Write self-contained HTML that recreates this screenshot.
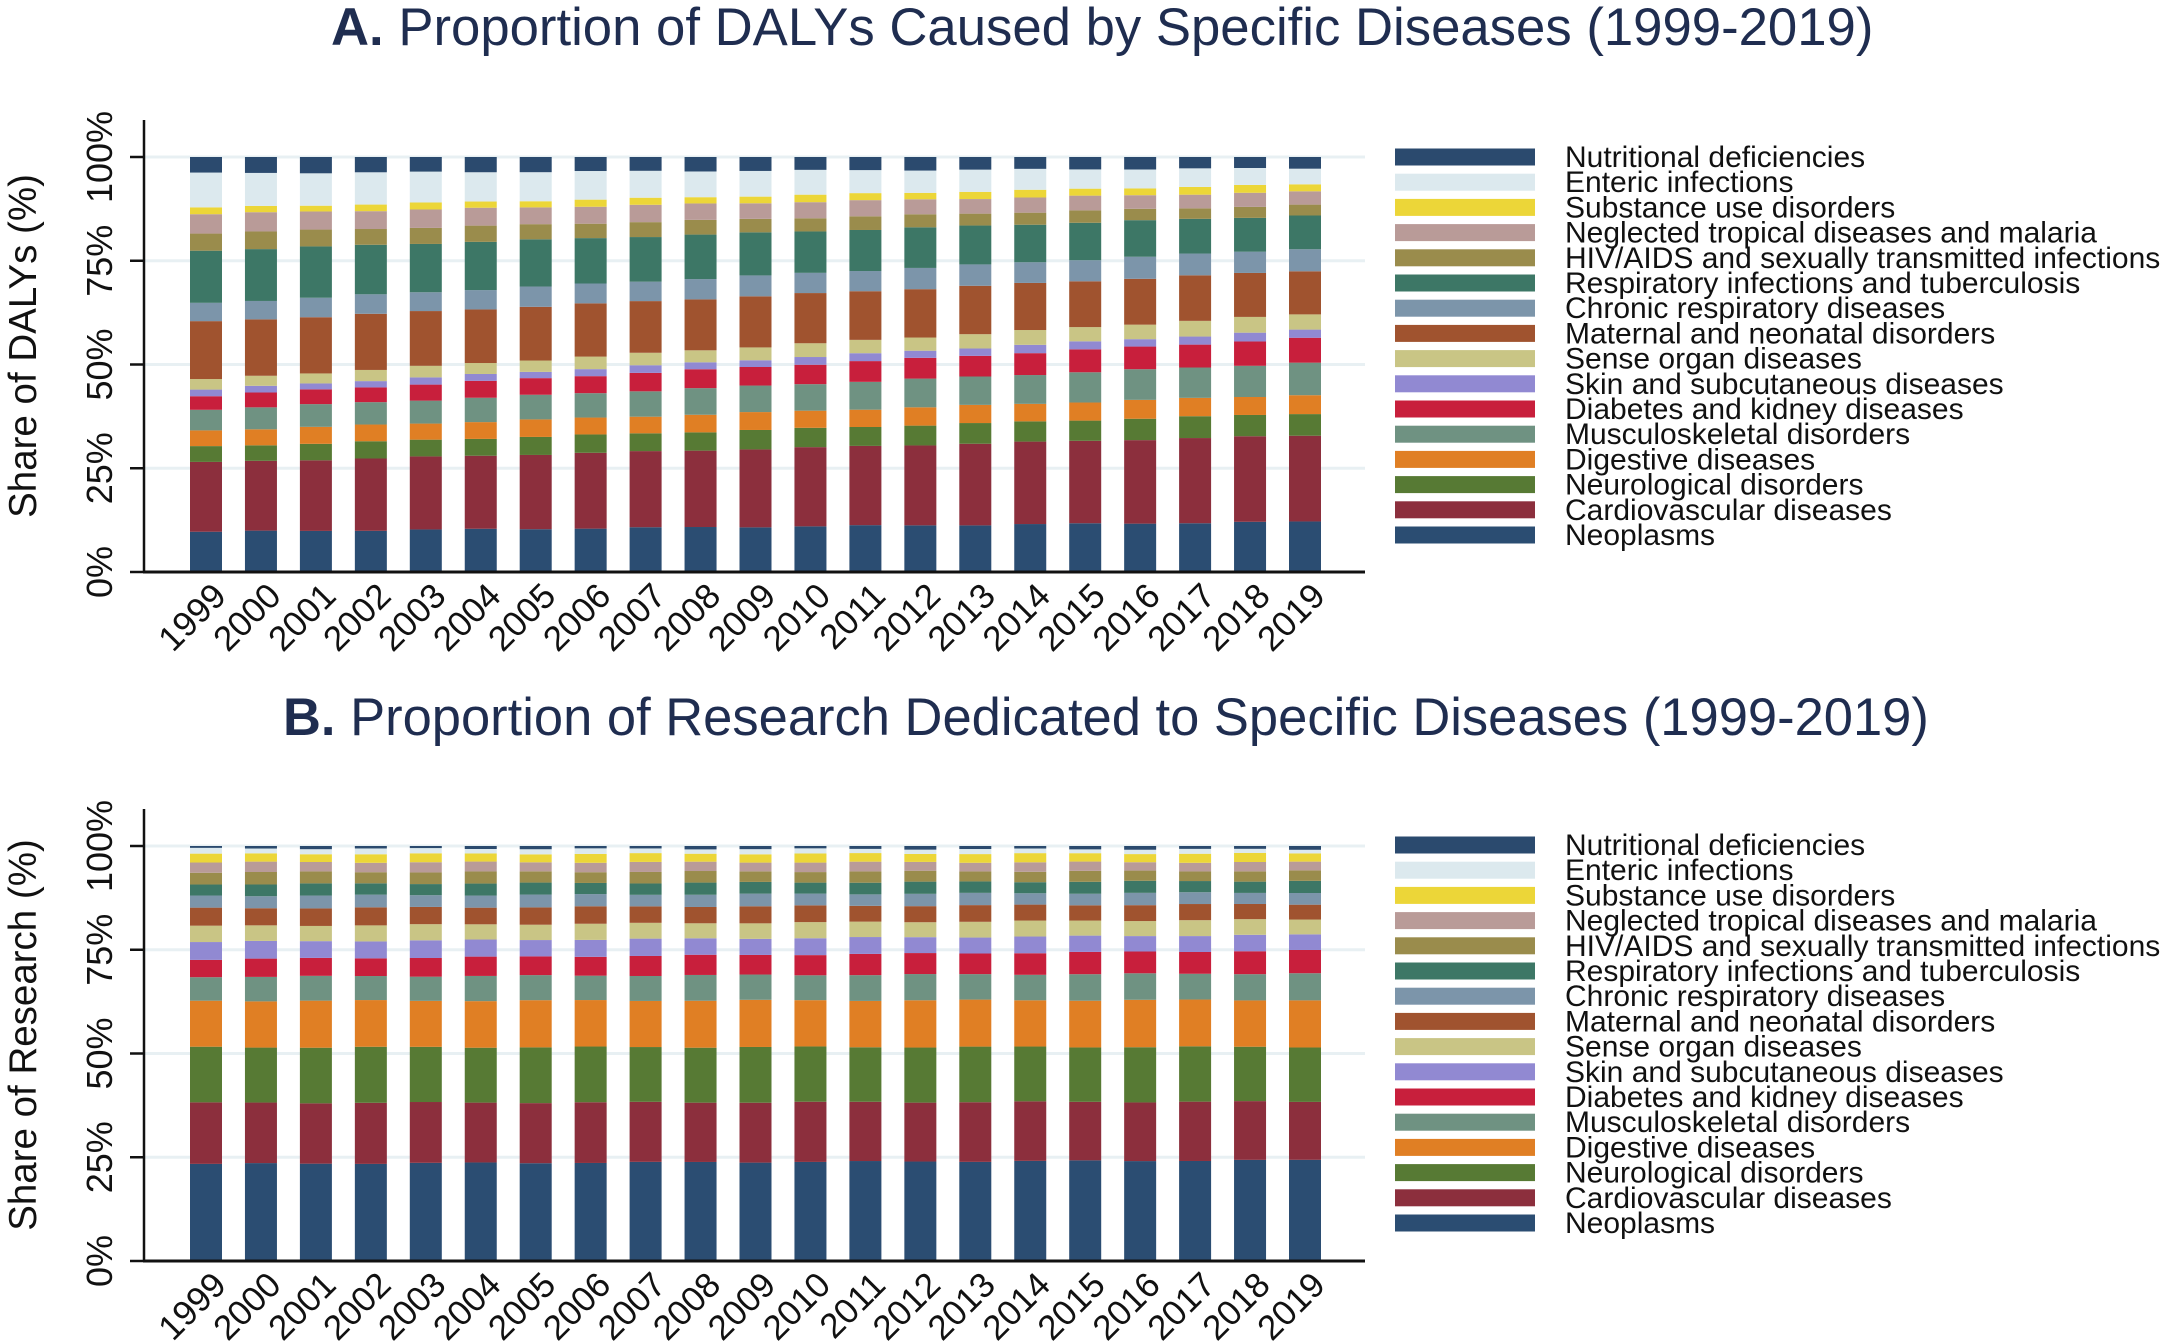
<!DOCTYPE html>
<html><head><meta charset="utf-8"><style>
html,body{margin:0;padding:0;background:#fff;}
svg{display:block;font-family:"Liberation Sans",Arial,sans-serif;}
</style></head><body>
<svg id="s" width="2162" height="1344" xmlns="http://www.w3.org/2000/svg">
<rect width="2162" height="1344" fill="#fff"/>
<text x="331" y="45" font-size="52.7" fill="#1f2d50"><tspan font-weight="bold">A.</tspan> Proportion of DALYs Caused by Specific Diseases (1999-2019)</text>
<text x="283" y="735" font-size="52.5" fill="#1f2d50"><tspan font-weight="bold">B.</tspan> Proportion of Research Dedicated to Specific Diseases (1999-2019)</text>
</svg>
<script>
const NS="http://www.w3.org/2000/svg",s=document.getElementById('s');
function el(t,a,txt){const e=document.createElementNS(NS,t);for(const k in a)e.setAttribute(k,a[k]);if(txt!==undefined)e.textContent=txt;s.appendChild(e);return e;}
const names=["Neoplasms","Cardiovascular diseases","Neurological disorders","Digestive diseases","Musculoskeletal disorders","Diabetes and kidney diseases","Skin and subcutaneous diseases","Sense organ diseases","Maternal and neonatal disorders","Chronic respiratory diseases","Respiratory infections and tuberculosis","HIV/AIDS and sexually transmitted infections","Neglected tropical diseases and malaria","Substance use disorders","Enteric infections","Nutritional deficiencies"];
const cols=["#2b4d72","#8c2f3d","#577a34","#e07f24","#6f9282","#c81f3c","#9189d2","#c9c585","#a0532f","#7c95aa","#3d7766","#9a8c4c","#b99b98","#ecd638","#dce9ee","#2b4a6e"];
const A99=[9.7,26.4,30.2,34.1,39.2,42.5,44.0,46.4,60.3,64.8,77.5,81.7,86.3,87.8,96.1,100];
const A19=[12.1,32.9,38.2,42.7,50.4,56.3,58.3,62.1,72.6,77.9,85.9,88.4,91.6,93.4,97.3,100];
const B99=[23.4,38.1,51.5,62.7,68.5,72.7,76.9,80.7,85.0,88.0,90.8,93.7,96.1,98.1,99.4,100];
const B19=[24.3,38.4,51.6,62.9,69.3,74.8,78.6,82.3,86.0,88.8,91.6,94.0,96.1,98.2,99.2,100];
function panel(top,bot,c0,c1,ytitle,ytc,legTop){
  const ppp=(bot-top)/100;
  for(const v of [25,50,75,100]){const y=bot-v*ppp;el('line',{x1:145,x2:1365,y1:y,y2:y,stroke:'#e8f0f3','stroke-width':3});}
  for(let i=0;i<21;i++){
    const t=i/20,x=190+i*54.95;let prev=0;
    for(let k=0;k<16;k++){
      const v=c0[k]+(c1[k]-c0[k])*t+(k<15?Math.sin(i*1.7+k)*0.15:0);
      const y1=bot-v*ppp,y0=bot-prev*ppp;
      el('rect',{x:x,y:y1,width:32,height:Math.max(0,y0-y1),fill:cols[k]});
      prev=v;
    }
    const cx=x+16;
    el('text',{x:cx+22,y:bot+26,'font-size':35,'text-anchor':'end',transform:`rotate(-45 ${cx+22} ${bot+26})`,fill:'#111'},String(1999+i));
  }
  el('line',{x1:144,x2:144,y1:top-37,y2:bot,stroke:'#111','stroke-width':2.5});
  el('line',{x1:143,x2:1365,y1:bot,y2:bot,stroke:'#111','stroke-width':3});
  for(const v of [0,25,50,75,100]){const y=bot-v*ppp;
    el('line',{x1:130,x2:144,y1:y,y2:y,stroke:'#111','stroke-width':2.5});
    el('text',{x:112,y:y,'font-size':36,'text-anchor':'middle',transform:`rotate(-90 112 ${y})`,fill:'#111'},v+'%');}
  el('text',{x:36,y:ytc,'font-size':38.5,'text-anchor':'middle',transform:`rotate(-90 36 ${ytc})`,fill:'#111'},ytitle);
  for(let k=0;k<16;k++){
    const idx=15-k,cy=legTop+k*25.2;
    el('rect',{x:1395,y:cy-8.5,width:140,height:17,fill:cols[idx]});
    el('text',{x:1565,y:cy+10,'font-size':30,fill:'#111'},names[idx]);
  }
}
panel(157,572,A99,A19,"Share of DALYs (%)",346,157);
panel(846,1261,B99,B19,"Share of Research (%)",1035,845);
</script>
</body></html>
